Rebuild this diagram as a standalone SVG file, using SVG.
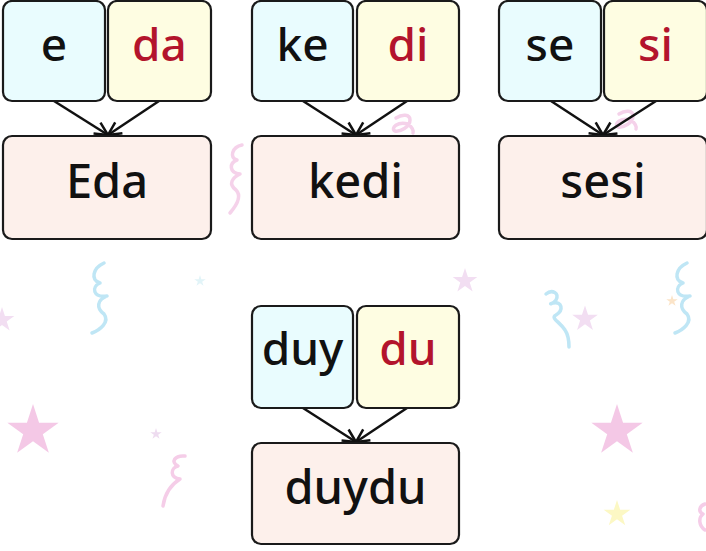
<svg xmlns="http://www.w3.org/2000/svg" xmlns:xlink="http://www.w3.org/1999/xlink" width="706" height="551" viewBox="0 0 706 551">
<defs>
<style>
.box{stroke:#1a1a1a;stroke-width:2.2;}
.a{fill:#e9fcfe;}
.b{fill:#fefde2;}
.c{fill:#fdf0eb;}
.t{font-family:"Noto Sans","Open Sans","DejaVu Sans",sans-serif;font-size:46px;font-weight:500;text-anchor:middle;fill:#111;}
.r{fill:#b3142c;}
.w{font-size:47px;}
.edge{stroke:#111;stroke-width:2.5;fill:none;marker-end:url(#arr);}
.sq{fill:none;stroke-width:3.5;stroke-linecap:round;stroke-linejoin:round;}
</style>
<marker id="arr" markerUnits="userSpaceOnUse" markerWidth="16" markerHeight="16" viewBox="0 0 16 16" refX="14" refY="8" orient="auto">
<path d="M1,1.5 L14,8 L1,14.5" fill="none" stroke="#111" stroke-width="2.5"/>
</marker>
<path id="star" d="M0,-1 L0.225,-0.309 L0.951,-0.309 L0.363,0.118 L0.588,0.809 L0,0.382 L-0.588,0.809 L-0.363,0.118 L-0.951,-0.309 L-0.225,-0.309 Z"/>
</defs>
<rect width="706" height="551" fill="#ffffff"/>
<g id="decor">
<use xlink:href="#star" href="#star" transform="translate(33,431) scale(27)" fill="#f4c8e6"/>
<use xlink:href="#star" href="#star" transform="translate(617,431) scale(27)" fill="#f4c8e6"/>
<use xlink:href="#star" href="#star" transform="translate(617,514) scale(14)" fill="#fcf8c4"/>
<use xlink:href="#star" href="#star" transform="translate(585,319) scale(13.5)" fill="#f2def2"/>
<use xlink:href="#star" href="#star" transform="translate(2,320) scale(13)" fill="#f2def2"/>
<use xlink:href="#star" href="#star" transform="translate(465,281) scale(13)" fill="#f2def2"/>
<use xlink:href="#star" href="#star" transform="translate(156,434) scale(6)" fill="#eedcf0"/>
<use xlink:href="#star" href="#star" transform="translate(200,281) scale(6)" fill="#e2f4f8"/>
<use xlink:href="#star" href="#star" transform="translate(672,301) scale(6)" fill="#fbe4c8"/>
<path class="sq" stroke="#bfe6f5" d="M104,263 C93,268 90,280 100,283 C91,287 93,298 107,296 C97,300 96,308 104,314 C110,322 100,330 92,333"/>
<path class="sq" stroke="#bfe6f5" d="M687,263 C676,268 673,280 683,283 C674,287 676,298 690,296 C680,300 679,308 687,314 C693,322 683,330 675,333"/>
<path class="sq" stroke="#bfe6f5" d="M546,294 C552,289 560,293 556,300 C552,305 548,304 553,303 C562,301 564,310 556,315 C550,318 560,322 565,330 C569,336 569,342 569,347"/>
<path class="sq" stroke="#f5cde8" d="M185,456 C175,455 170,462 178,466 C170,468 170,478 180,479 C172,484 165,492 163,506"/>
<path class="sq" stroke="#f5d2ea" stroke-width="2.5" d="M242,145 C232,147 229,158 237,160 C229,163 229,173 240,174 C232,178 228,184 236,190 C242,196 236,206 230,213"/>
<path class="sq" stroke="#f5d2ea" stroke-width="2.5" d="M396,118 C402,114 410,114 410,120 C410,127 400,132 395,131 C390,128 398,121 408,124 C412,127 414,131 413,133"/>
<path class="sq" stroke="#f5d2ea" stroke-width="2.5" d="M619,114 C625,110 633,110 633,116 C633,123 623,128 618,127 C613,124 621,117 631,120 C635,123 637,127 636,129"/>
<path class="sq" stroke="#f5cde8" d="M705,504 C699,506 698,512 703,514 C698,518 699,526 705,530"/>
</g>
<g id="connectors">
<line class="edge" x1="54" y1="101" x2="108" y2="135"/>
<line class="edge" x1="159" y1="101" x2="108" y2="135"/>
<line class="edge" x1="303" y1="101" x2="356" y2="135"/>
<line class="edge" x1="407" y1="101" x2="356" y2="135"/>
<line class="edge" x1="551" y1="101" x2="603" y2="135"/>
<line class="edge" x1="656" y1="101" x2="603" y2="135"/>
<line class="edge" x1="303" y1="408" x2="356" y2="442"/>
<line class="edge" x1="407" y1="408" x2="356" y2="442"/>
</g>
<g id="n-e"><rect class="box a" x="3" y="1" width="102" height="100" rx="9"/><text class="t" x="54" y="61">e</text></g>
<g id="n-da"><rect class="box b" x="108" y="1" width="103" height="100" rx="9"/><text class="t r" x="159.5" y="61">da</text></g>
<g id="n-eda"><rect class="box c" x="3" y="136" width="208" height="103" rx="9"/><text class="t w" x="107" y="198">Eda</text></g>
<g id="n-ke"><rect class="box a" x="252" y="1" width="101" height="100" rx="9"/><text class="t" x="302.5" y="61">ke</text></g>
<g id="n-di"><rect class="box b" x="357" y="1" width="102" height="100" rx="9"/><text class="t r" x="408" y="61">di</text></g>
<g id="n-kedi"><rect class="box c" x="252" y="136" width="207" height="103" rx="9"/><text class="t w" x="355.5" y="198">kedi</text></g>
<g id="n-se"><rect class="box a" x="499" y="1" width="102" height="100" rx="9"/><text class="t" x="550" y="61">se</text></g>
<g id="n-si"><rect class="box b" x="604" y="1" width="103" height="100" rx="9"/><text class="t r" x="655.5" y="61">si</text></g>
<g id="n-sesi"><rect class="box c" x="499" y="136" width="208" height="103" rx="9"/><text class="t w" x="603" y="198">sesi</text></g>
<g id="n-duy"><rect class="box a" x="252" y="306" width="101" height="102" rx="9"/><text class="t" x="302.5" y="365">duy</text></g>
<g id="n-du"><rect class="box b" x="357" y="306" width="102" height="102" rx="9"/><text class="t r" x="408" y="365">du</text></g>
<g id="n-duydu"><rect class="box c" x="252" y="443" width="207" height="101" rx="9"/><text class="t w" x="355.5" y="504">duydu</text></g>
</svg>
